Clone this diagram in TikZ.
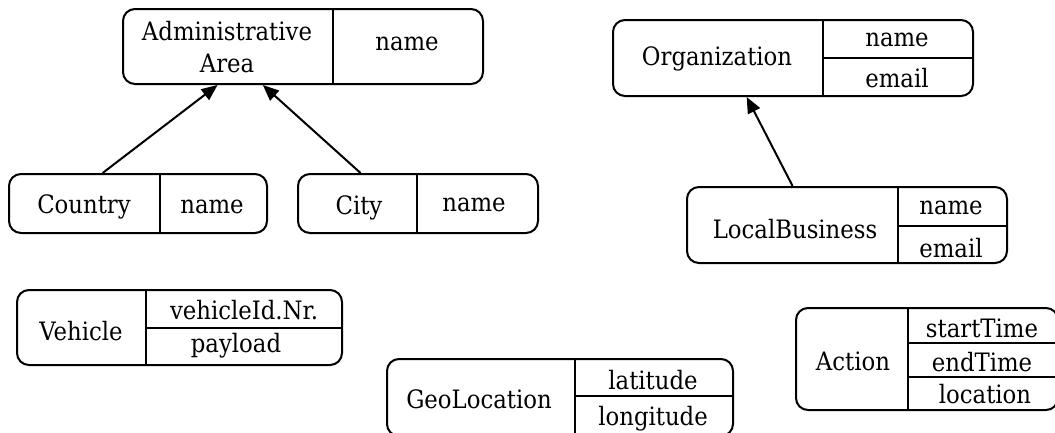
\documentclass[tikz,border=0pt]{standalone}
\usepackage{fontspec}
\setmainfont{DejaVu Serif Condensed}
\usetikzlibrary{arrows.meta,fit,calc}
\begin{document}
\begin{tikzpicture}[x=0.75pt,y=-0.75pt,
  rec/.style={draw, line width=1.5pt, rounded corners=9pt, inner sep=0pt},
  div/.style={line width=1.5pt},
  lbl/.style={font=\fontsize{19}{24}\selectfont, inner sep=0pt, anchor=base},
  isa/.style={line width=1.5pt, -{Triangle[length=12pt,width=10pt]}}]
\useasboundingbox (0,0) rectangle (1055,432);

% Administrative Area
\node[rec, fit={(123,9) (483,84)}] (adm) {};
\draw[div] (333,9) -- (333,84);
\node[lbl, anchor=center, align=center] (admT) at (227,47) {Administrative\\Area};
\node[lbl] (admN) at (407,50) {name};

% Country
\node[rec, fit={(9,174) (267,233)}] (country) {};
\draw[div] (160,174) -- (160,233);
\node[lbl] (countryT) at (84,213) {Country};
\node[lbl] (countryN) at (212,213) {name};

% City
\node[rec, fit={(298,174) (538,233)}] (city) {};
\draw[div] (417,174) -- (417,233);
\node[lbl] (cityT) at (359,214) {City};
\node[lbl] (cityN) at (474,211) {name};

% Organization
\node[rec, fit={(613,20) (973,96)}] (org) {};
\draw[div] (823,20) -- (823,96);
\draw[div] (823,58) -- (973,58);
\node[lbl] (orgT) at (717,65) {Organization};
\node[lbl] (orgN) at (897,46) {name};
\node[lbl] (orgE) at (897,87) {email};

% LocalBusiness
\node[rec, fit={(687,187) (1007,263)}] (lb) {};
\draw[div] (898,187) -- (898,263);
\draw[div] (898,226) -- (1007,226);
\node[lbl] (lbT) at (795,238) {LocalBusiness};
\node[lbl] (lbN) at (951,214) {name};
\node[lbl] (lbE) at (951,257) {email};

% Vehicle
\node[rec, fit={(17,290) (342,365)}] (veh) {};
\draw[div] (146,290) -- (146,365);
\draw[div] (146,328) -- (342,328);
\node[lbl] (vehT) at (81,340) {Vehicle};
\node[lbl] (vehI) at (244,319) {vehicleId.Nr.};
\node[lbl] (vehP) at (236,352) {payload};

% GeoLocation
\node[rec, fit={(387,359) (733,436)}] (geo) {};
\draw[div] (575,359) -- (575,436);
\draw[div] (575,396) -- (733,396);
\node[lbl] (geoT) at (479,408) {GeoLocation};
\node[lbl] (geoA) at (653,389) {latitude};
\node[lbl] (geoO) at (653,425) {longitude};

% Action
\node[rec, fit={(796,308) (1058,410)}] (act) {};
\draw[div] (908,308) -- (908,410);
\draw[div] (908,343) -- (1058,343);
\draw[div] (908,377) -- (1058,377);
\node[lbl] (actT) at (853,370) {Action};
\node[lbl] (actS) at (982,337) {startTime};
\node[lbl] (actE) at (982,371) {endTime};
\node[lbl] (actL) at (985,403) {location};

% inheritance arrows
\draw[isa] ($(country.north west)!0.364!(country.north east)$) -- ($(adm.south west)!0.264!(adm.south east)$);
\draw[isa] ($(city.north west)!0.2625!(city.north east)$) -- ($(adm.south west)!0.389!(adm.south east)$);
\draw[isa] ($(lb.north west)!0.331!(lb.north east)$) -- ($(org.south west)!0.372!(org.south east)$);
\end{tikzpicture}
\end{document}
